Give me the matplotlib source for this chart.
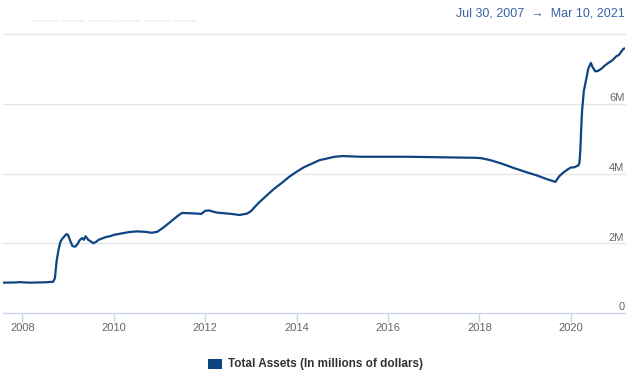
import matplotlib
matplotlib.use("Agg")
import matplotlib.pyplot as plt
import matplotlib.patches as mpatches
import pandas as pd

# ---- data (Total Assets, in millions of dollars) ----
dates = [
    "2007-07-30", "2007-09-01", "2007-11-01", "2007-12-15", "2008-01-01", "2008-03-01",
    "2008-05-01", "2008-07-01", "2008-09-03", "2008-09-17", "2008-10-01", "2008-10-15",
    "2008-11-01", "2008-11-19", "2008-12-03", "2008-12-17", "2008-12-31", "2009-01-14",
    "2009-02-04", "2009-02-25", "2009-03-18", "2009-04-01", "2009-04-22", "2009-05-06",
    "2009-05-20", "2009-06-10", "2009-07-01", "2009-07-22", "2009-08-12", "2009-09-02",
    "2009-10-01", "2009-11-01", "2009-12-01", "2010-01-01", "2010-03-01", "2010-05-01",
    "2010-07-01", "2010-09-01", "2010-11-01", "2010-12-15", "2011-02-01", "2011-04-01",
    "2011-06-01", "2011-07-01", "2011-09-01", "2011-11-01", "2011-12-01", "2012-01-01",
    "2012-02-01", "2012-04-01", "2012-06-01", "2012-08-01", "2012-10-01", "2012-12-01",
    "2013-01-01", "2013-03-01", "2013-05-01", "2013-07-01", "2013-09-01", "2013-11-01",
    "2014-01-01", "2014-03-01", "2014-05-01", "2014-07-01", "2014-09-01", "2014-11-01",
    "2015-01-01", "2015-06-01", "2015-12-01", "2016-06-01", "2016-12-01", "2017-06-01",
    "2017-12-01", "2018-01-15", "2018-04-01", "2018-07-01", "2018-10-01", "2019-01-01",
    "2019-04-01", "2019-07-01", "2019-09-01", "2019-10-01", "2019-11-01", "2019-12-01",
    "2020-01-01", "2020-02-01", "2020-03-04", "2020-03-11", "2020-03-18", "2020-03-25",
    "2020-04-01", "2020-04-15", "2020-05-01", "2020-05-20", "2020-06-10", "2020-06-24",
    "2020-07-15", "2020-08-05", "2020-09-01", "2020-10-01", "2020-11-01", "2020-12-01",
    "2020-12-30", "2021-01-20", "2021-02-10", "2021-02-24", "2021-03-10",
]
total_assets = [
    870000, 872000, 875000, 885000, 880000, 870000,
    875000, 880000, 895000, 1000000, 1500000, 1800000,
    2050000, 2150000, 2200000, 2260000, 2240000, 2100000,
    1920000, 1900000, 1980000, 2080000, 2150000, 2100000,
    2200000, 2100000, 2050000, 2000000, 2040000, 2100000,
    2140000, 2180000, 2200000, 2240000, 2280000, 2320000,
    2340000, 2330000, 2300000, 2330000, 2450000, 2620000,
    2800000, 2870000, 2860000, 2850000, 2840000, 2930000,
    2940000, 2880000, 2860000, 2840000, 2810000, 2850000,
    2920000, 3150000, 3350000, 3550000, 3720000, 3900000,
    4050000, 4180000, 4280000, 4380000, 4430000, 4480000,
    4500000, 4480000, 4480000, 4480000, 4470000, 4460000,
    4450000, 4440000, 4380000, 4280000, 4160000, 4050000,
    3950000, 3830000, 3760000, 3920000, 4020000, 4100000,
    4170000, 4180000, 4240000, 4310000, 4670000, 5300000,
    5800000, 6370000, 6650000, 7000000, 7170000, 7050000,
    6930000, 6940000, 7000000, 7100000, 7180000, 7250000,
    7360000, 7400000, 7500000, 7570000, 7590000,
]
series_name = "Total Assets (In millions of dollars)"
x_tick_years = ["2008", "2010", "2012", "2014", "2016", "2018", "2020"]
y_tick_values = [0, 2000000, 4000000, 6000000]
y_tick_labels = ["0", "2M", "4M", "6M"]
range_text = "Jul 30, 2007  \u2192  Mar 10, 2021"

FONT = ["Liberation Sans", "DejaVu Sans"]
plt.rcParams["font.family"] = FONT

W, H = 630, 372
fig = plt.figure(figsize=(W / 100, H / 100), dpi=100)

# axes: left 3px, right 625px, bottom y=313, top y=34
ax = fig.add_axes([3 / W, (H - 313) / H, (625 - 3) / W, (313 - 34) / H])
x = pd.to_datetime(dates)
ax.plot(x, total_assets, color="#0d4481", lw=1.6, solid_joinstyle="round", zorder=3)

ax.set_xlim(x.min(), x.max())
ax.set_ylim(0, 8000000)

for s in ["top", "left", "right"]:
    ax.spines[s].set_visible(False)
ax.spines["bottom"].set_color("#ccd6eb")
ax.spines["bottom"].set_linewidth(1.0)

# grid lines
for v in [2000000, 4000000, 6000000, 8000000]:
    ax.axhline(v, color="#e6e6e6", lw=1.0, zorder=1, clip_on=False)

# x ticks
xt = pd.to_datetime([y + "-01-01" for y in x_tick_years])
ax.set_xticks(xt)
ax.set_xticklabels(x_tick_years)
ax.tick_params(axis="x", colors="#ccd6eb", length=6.5, width=1, pad=1,
               labelcolor="#666666", labelsize=8)

# y ticks: inside, right-aligned, above gridline
ax.set_yticks([])
for v, lab in zip(y_tick_values, y_tick_labels):
    ax.annotate(lab, xy=(1, v), xycoords=("axes fraction", "data"),
                xytext=(-0.5, 0.5), textcoords="offset points",
                ha="right", va="bottom", fontsize=8, color="#666666")

# range text top right
fig.text(625 / W, 1 - 13 / H, range_text, ha="right", va="center",
         fontsize=9, color="#3a62a7")

# faint range selector buttons
for bx in [33, 61, 89, 116, 145, 173]:
    fig.patches.append(mpatches.Rectangle((bx / W, 1 - 22 / H), 24 / W, 2 / H,
                                          transform=fig.transFigure,
                                          facecolor="#f1f3f7", edgecolor="none"))

# legend
fig.patches.append(mpatches.Rectangle((208 / W, 1 - 369 / H), 14 / W, 10 / H,
                                      transform=fig.transFigure,
                                      facecolor="#0d4481", edgecolor="none"))
fig.text(228 / W, 1 - 364 / H, series_name, ha="left", va="center",
         fontsize=8.5, fontweight="bold", color="#333333")

fig.savefig("out.png", dpi=100, facecolor="white")
